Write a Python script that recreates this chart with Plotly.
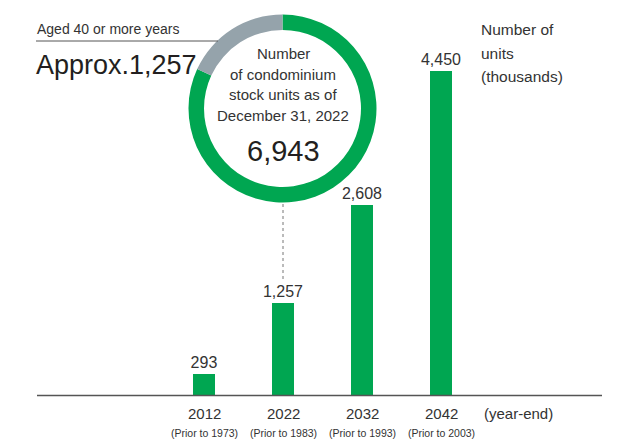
import plotly.graph_objects as go

# ---- data ----
years = ["2012", "2022", "2032", "2042"]
prior_labels = ["(Prior to 1973)", "(Prior to 1983)", "(Prior to 1993)", "(Prior to 2003)"]
units_40plus = [293, 1257, 2608, 4450]          # thousands
stock_total = 6943
stock_aged = 1257
donut_lines = ["Number", "of condominium", "stock units as of", "December 31, 2022"]
unit_lines = ["Number of", "units", "(thousands)"]

GREEN = "#00A651"
GRAY = "#95A3AB"
TXT = "#333333"
W, H = 619, 446
FONT = "Liberation Sans, Arial, sans-serif"

def py(p):  # pixel-from-top -> paper y
    return (H - p) / H

def px(p):
    return p / W

fig = go.Figure()

fig.add_trace(go.Bar(
    x=list(range(len(years))), y=units_40plus,
    width=0.28, marker=dict(color=GREEN, line=dict(width=0)),
    text=[f"{v:,}" for v in units_40plus], textposition="outside",
    constraintext="none",
    textfont=dict(family=FONT, size=16, color=TXT),
    cliponaxis=False, hoverinfo="skip", showlegend=False,
))

# donut: newer stock (green) first clockwise from 12 o'clock, aged stock (gray) closes back to 12
cx, cy, r = 282.5, 108.5, 94
fig.add_trace(go.Pie(
    values=[stock_total - stock_aged, stock_aged],
    marker=dict(colors=[GREEN, GRAY], line=dict(width=0)),
    hole=0.835, sort=False, direction="clockwise", rotation=0,
    textinfo="none", hoverinfo="skip", showlegend=False,
    domain=dict(x=[px(cx - r), px(cx + r)], y=[py(cy + r), py(cy - r)]),
))

# scale: 79 px per category, first bar centre at 204 px
x0 = -204 / 79
x1 = x0 + W / 79
ppu = 324 / 4450
y0 = -(H - 395) / ppu
y1 = y0 + H / ppu

fig.update_layout(
    width=W, height=H, margin=dict(l=0, r=0, t=0, b=0),
    paper_bgcolor="white", plot_bgcolor="white",
    xaxis=dict(range=[x0, x1], visible=False, fixedrange=True),
    yaxis=dict(range=[y0, y1], visible=False, fixedrange=True),
    bargap=0,
)

ann = []
# year labels
for i, (yr, pr) in enumerate(zip(years, prior_labels)):
    ann.append(dict(x=i, xref="x", y=py(413), yref="paper", text=yr, showarrow=False,
                    font=dict(family=FONT, size=15, color=TXT), xanchor="center", yanchor="middle"))
    ann.append(dict(x=i, xref="x", y=py(433), yref="paper", text=pr, showarrow=False,
                    font=dict(family=FONT, size=10.5, color=TXT), xanchor="center", yanchor="middle"))
ann.append(dict(x=px(482), xref="paper", y=py(413), yref="paper", text="(year-end)", showarrow=False,
                font=dict(family=FONT, size=15, color=TXT), xanchor="left", yanchor="middle"))

# unit label
for k, t in enumerate(unit_lines):
    ann.append(dict(x=px(479), xref="paper", y=py(30 + 23 * k), yref="paper", text=t, showarrow=False,
                    font=dict(family=FONT, size=15.5, color=TXT), xanchor="left", yanchor="middle"))

# donut centre text
for k, t in enumerate(donut_lines):
    ann.append(dict(x=px(283), xref="paper", y=py(53 + 21 * k), yref="paper", text=t, showarrow=False,
                    font=dict(family=FONT, size=15, color=TXT), xanchor="center", yanchor="middle"))
ann.append(dict(x=px(283), xref="paper", y=py(151), yref="paper", text=f"{stock_total:,}", showarrow=False,
                font=dict(family=FONT, size=29, color="#231F20"), xanchor="center", yanchor="middle"))

# aged label
ann.append(dict(x=px(35), xref="paper", y=py(29), yref="paper", text="Aged 40 or more years", showarrow=False,
                font=dict(family=FONT, size=14, color=TXT), xanchor="left", yanchor="middle"))
ann.append(dict(x=px(34), xref="paper", y=py(65), yref="paper", text=f"Approx.{stock_aged:,}", showarrow=False,
                font=dict(family=FONT, size=27, color="#231F20"), xanchor="left", yanchor="middle"))
fig.update_layout(annotations=ann)

shapes = [
    dict(type="line", xref="paper", yref="paper", x0=px(36), x1=px(218), y0=py(41), y1=py(41),
         line=dict(color="#555555", width=1)),
    dict(type="line", xref="paper", yref="paper", x0=px(37), x1=px(602), y0=py(395.5), y1=py(395.5),
         line=dict(color="#555555", width=1.3)),
    dict(type="line", xref="x", yref="paper", x0=1, x1=1, y0=py(204), y1=py(279),
         line=dict(color="#777777", width=1, dash="dot")),
]
fig.update_layout(shapes=shapes)

fig.write_html("out.html", config={"displayModeBar": False},
               post_script="document.body.style.margin='0';document.body.style.overflow='hidden';")
